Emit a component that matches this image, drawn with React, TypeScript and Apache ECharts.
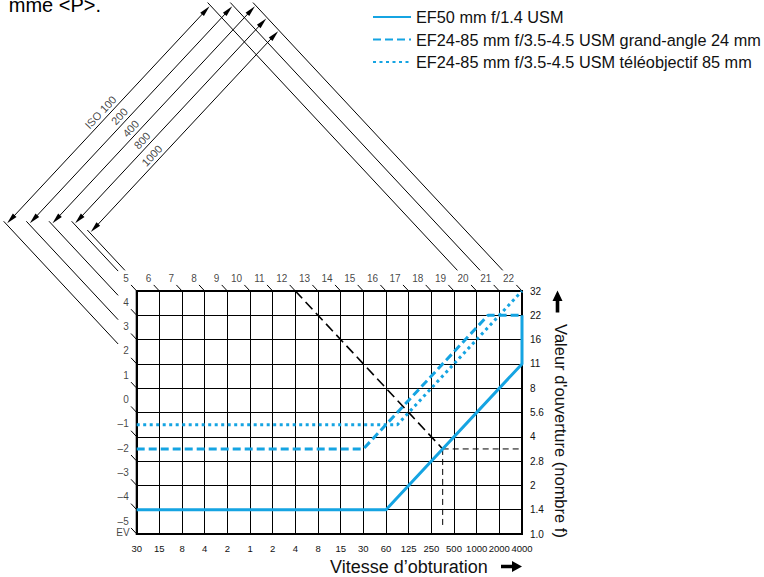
import { useEffect, useRef } from 'react';
import * as echarts from 'echarts';

// ---- data ----
// x: shutter-speed step index (0 = 30 s … 17 = 1/4000 s)
// y: aperture step index (0 = f/1.0 … 10 = f/32)
const shutterLabels = ['30', '15', '8', '4', '2', '1', '2', '4', '8', '15', '30', '60', '125', '250', '500', '1000', '2000', '4000'];
const apertureLabels = ['1.0', '1.4', '2', '2.8', '4', '5.6', '8', '11', '16', '22', '32'];
const evTopLabels = [6, 7, 8, 9, 10, 11, 12, 13, 14, 15, 16, 17, 18, 19, 20, 21, 22];
const evLeftLabels = [5, 4, 3, 2, 1, 0, -1, -2, -3, -4, -5];

const seriesNames = [
  'EF50 mm f/1.4 USM',
  'EF24-85 mm f/3.5-4.5 USM grand-angle 24 mm',
  'EF24-85 mm f/3.5-4.5 USM téléobjectif 85 mm',
];
const ef50Points = [[0, 1], [11, 1], [17, 7], [17, 9]];
const wideAnglePoints = [[0, 3.5], [10, 3.5], [15.5, 9], [17, 9]];
const telePoints = [[0, 4.5], [11.5, 4.5], [17, 10]];

const exampleEvLine = [[7, 10], [13.5, 3.5]];
const exampleApertureLine = [[13.5, 3.5], [17, 3.5]];
const exampleShutterLine = [[13.5, 3.5], [13.5, 0.25]];

const isoNames = ['ISO 100', '200', '400', '800', '1000'];
const isoLowEv = [2, 3, 4, 5, 5.33];
const isoHighEv = [20, 21, 22, 22, 22];
const isoDiagonal = [18.5, 17.5, 16.5, 15.5, 14.45];
const isoReachesTop = [true, true, true, false, false];

// ---- styling ----
const BLUE = '#15A4E2';
const NARROW = "'Liberation Sans Narrow','Arial Narrow','Liberation Sans',sans-serif";
const SANS = "'Liberation Sans',Arial,sans-serif";

// point on the constant-EV line e and the perpendicular diagonal d (d = y - x)
const pt = (e: number, d: number) => [(e + 5 - d) / 2, (e + 5 + d) / 2];
const LABEL_ROW = 10.85;

const isoLineSegs: number[][][] = [];
const isoArrowSegs: number[][][] = [];
const isoLabelData: any[] = [];
isoNames.forEach((name, i) => {
  const d = isoDiagonal[i];
  const lo = pt(isoLowEv[i], d);
  const hi = pt(isoHighEv[i], d);
  const loEndX = Math.max(-0.82, isoLowEv[i] + 5 - LABEL_ROW);
  isoLineSegs.push([[lo[0] - 0.12, lo[1] + 0.12], [loEndX, isoLowEv[i] + 5 - loEndX]]);
  if (isoReachesTop[i]) {
    isoLineSegs.push([[hi[0] - 0.12, hi[1] + 0.12], [isoHighEv[i] + 5 - LABEL_ROW, LABEL_ROW]]);
  }
  isoArrowSegs.push([[lo[0] + 0.2, lo[1] + 0.2], [hi[0] - 0.2, hi[1] - 0.2]]);
  isoLabelData.push({ name, value: pt(12, d + 0.12) });
});

const fmtEv = (v: number) => (v < 0 ? '\u2013' + Math.abs(v) : String(v));
const evCorners: { name: string; value: number[] }[] = [
  ...evLeftLabels.map((ev) => ({ name: fmtEv(ev), value: [0, ev + 5] })),
  ...evTopLabels.map((ev) => ({ name: fmtEv(ev), value: [ev - 5, 10] })),
];
const evTickSegs = evCorners.map((c) => [
  [c.value[0] - 0.25, c.value[1] + 0.25],
  [c.value[0] - 0.02, c.value[1] + 0.02],
]);

const option: any = {
  animation: false,
  backgroundColor: '#fff',
  grid: {
    left: 136.7,
    top: 291,
    width: 385.3,
    height: 243,
    show: true,
    borderColor: '#000',
    borderWidth: 2,
    backgroundColor: 'transparent',
  },
  legend: {
    data: seriesNames,
    orient: 'vertical',
    left: 367,
    top: 4,
    padding: 5,
    itemWidth: 38,
    itemHeight: 14,
    itemGap: 6.5,
    itemStyle: { opacity: 0 },
    textStyle: { fontSize: 16.3, color: '#111', fontFamily: SANS },
  },
  xAxis: {
    type: 'value',
    min: 0,
    max: 17,
    interval: 1,
    position: 'bottom',
    axisLine: { show: false },
    axisTick: { show: false },
    axisLabel: {
      formatter: (v: number) => shutterLabels[v] ?? '',
      fontSize: 9.5,
      color: '#111',
      fontFamily: NARROW,
      margin: 9,
      showMinLabel: true,
      showMaxLabel: true,
      hideOverlap: false,
    },
    splitLine: { show: true, lineStyle: { color: '#000', width: 1 } },
  },
  yAxis: {
    type: 'value',
    min: 0,
    max: 10,
    interval: 1,
    position: 'right',
    axisLine: { show: true, lineStyle: { color: '#000', width: 2 } },
    axisTick: { show: true, length: 5, lineStyle: { color: '#000', width: 1 } },
    axisLabel: {
      formatter: (v: number) => apertureLabels[v] ?? '',
      fontSize: 10,
      color: '#111',
      fontFamily: NARROW,
      margin: 8,
      showMinLabel: true,
      showMaxLabel: true,
    },
    splitLine: { show: true, lineStyle: { color: '#000', width: 1 } },
  },
  graphic: [
    {
      type: 'text',
      x: 101,
      y: 15,
      style: { text: 'mme <P>.', font: `20px ${SANS}`, fill: '#000', textAlign: 'right', textVerticalAlign: 'bottom', align: 'right', verticalAlign: 'bottom' },
    },
    {
      type: 'text',
      x: 409,
      y: 566.5,
      style: { text: 'Vitesse d\u2019obturation', font: `18px ${SANS}`, fill: '#111', textAlign: 'center', textVerticalAlign: 'middle', align: 'center', verticalAlign: 'middle' },
    },
    {
      type: 'polygon',
      shape: { points: [[501, 564.7], [512, 564.7], [512, 561], [522, 566.5], [512, 572], [512, 568.3], [501, 568.3]] },
      style: { fill: '#000' },
    },
    {
      type: 'text',
      x: 561,
      y: 431,
      rotation: -Math.PI / 2,
      style: { text: "Valeur d'ouverture (nombre f)", font: `16.5px ${SANS}`, fill: '#111', textAlign: 'center', textVerticalAlign: 'middle', align: 'center', verticalAlign: 'middle' },
    },
    {
      type: 'polygon',
      shape: { points: [[557.5, 290.5], [562.5, 301], [559.3, 301], [559.3, 312.5], [555.7, 312.5], [555.7, 301], [552.5, 301]] },
      style: { fill: '#000' },
    },
  ],
  series: [
    {
      type: 'line',
      name: seriesNames[0],
      data: ef50Points,
      symbol: 'none',
      clip: false,
      z: 6,
      itemStyle: { color: BLUE },
      lineStyle: { color: BLUE, width: 3, type: 'solid' },
    },
    {
      type: 'line',
      name: seriesNames[1],
      data: wideAnglePoints,
      symbol: 'none',
      clip: false,
      z: 6,
      itemStyle: { color: BLUE },
      lineStyle: { color: BLUE, width: 3, type: [8, 4] },
    },
    {
      type: 'line',
      name: seriesNames[2],
      data: telePoints,
      symbol: 'none',
      clip: false,
      z: 6,
      itemStyle: { color: BLUE },
      lineStyle: { color: BLUE, width: 3, type: [3, 3.5] },
    },
    {
      type: 'line',
      data: exampleEvLine,
      symbol: 'none',
      clip: false,
      z: 5,
      lineStyle: { color: '#000', width: 1.6, type: [10, 5] },
    },
    {
      type: 'line',
      data: exampleApertureLine,
      symbol: 'none',
      clip: false,
      z: 5,
      lineStyle: { color: '#000', width: 1, type: [6, 4] },
    },
    {
      type: 'line',
      data: exampleShutterLine,
      symbol: 'none',
      clip: false,
      z: 5,
      lineStyle: { color: '#000', width: 1, type: [6, 4] },
    },
    {
      type: 'lines',
      coordinateSystem: 'cartesian2d',
      clip: false,
      silent: true,
      data: [...isoLineSegs, ...evTickSegs].map((c) => ({ coords: c })),
      lineStyle: { color: '#000', width: 1, opacity: 1, curveness: 0 },
    },
    {
      type: 'lines',
      coordinateSystem: 'cartesian2d',
      clip: false,
      silent: true,
      symbol: ['triangle', 'triangle'],
      symbolSize: [[5, 11], [5, 11]],
      data: isoArrowSegs.map((c) => ({ coords: c })),
      lineStyle: { color: '#000', width: 1, opacity: 1, curveness: 0 },
    },
    {
      type: 'scatter',
      clip: false,
      silent: true,
      symbolSize: 1,
      itemStyle: { color: 'transparent' },
      data: isoLabelData,
      label: {
        show: true,
        position: 'inside',
        formatter: '{b}',
        rotate: 47,
        align: 'right',
        verticalAlign: 'bottom',
        fontSize: 11,
        fontFamily: SANS,
        color: '#111',
      },
    },
    {
      type: 'scatter',
      clip: false,
      silent: true,
      symbolSize: 1,
      itemStyle: { color: 'transparent' },
      data: [...evCorners, { name: 'EV', value: [0, 0], label: { offset: [-7, -1.5] } }],
      label: {
        show: true,
        position: 'inside',
        formatter: '{b}',
        align: 'right',
        verticalAlign: 'middle',
        offset: [-8, -13],
        fontSize: 10,
        fontFamily: NARROW,
        color: '#111',
      },
    },
  ],
};

export default function App() {
  const ref = useRef<HTMLDivElement>(null);
  useEffect(() => {
    document.body.style.margin = '0';
    const chart = echarts.init(ref.current!, null, { renderer: 'svg' });
    chart.setOption(option);
    return () => chart.dispose();
  }, []);
  return <div ref={ref} style={{ width: 764, height: 577 }} />;
}
